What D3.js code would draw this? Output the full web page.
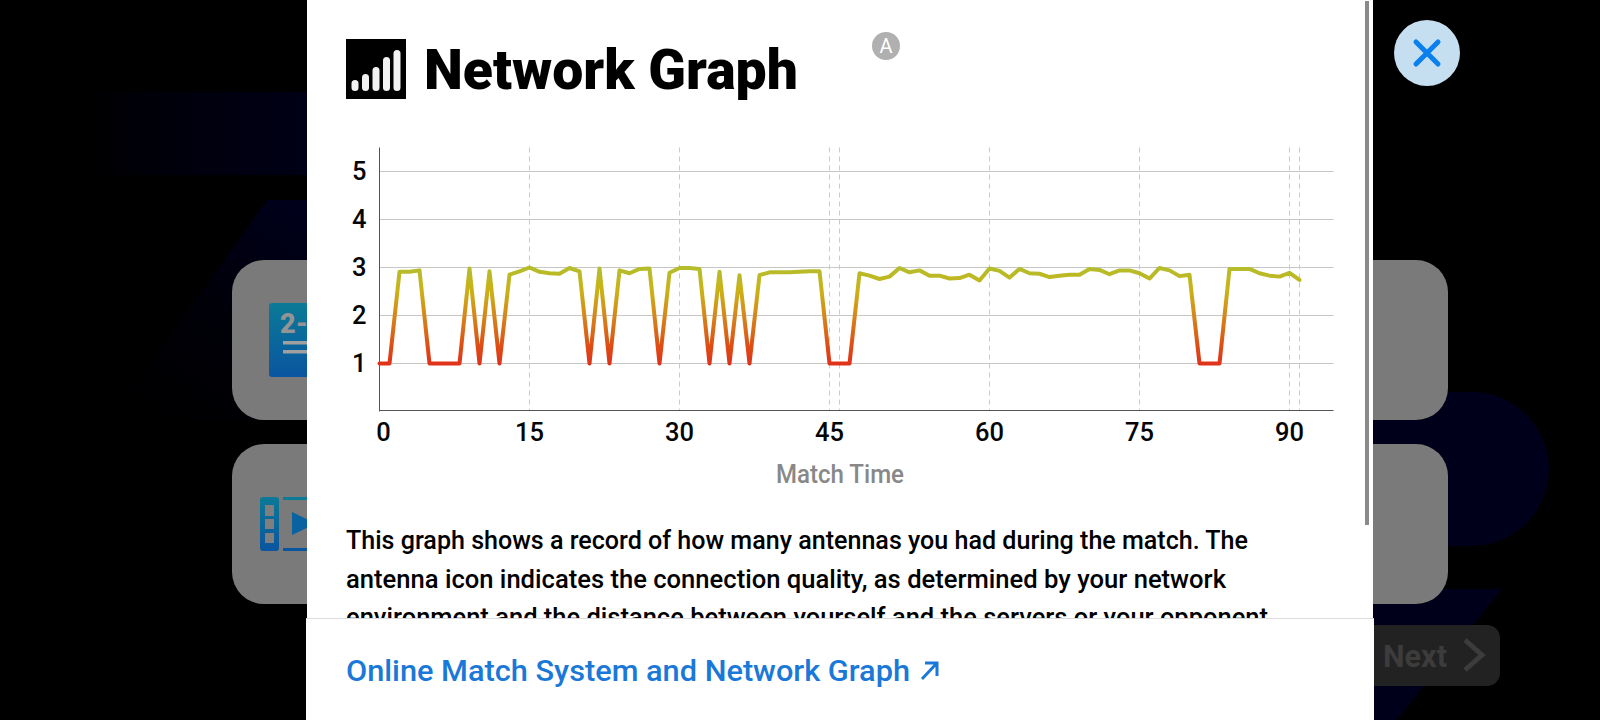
<!DOCTYPE html>
<html>
<head>
<meta charset="utf-8">
<script src="https://cdn.jsdelivr.net/npm/d3@7"></script>
<style>
  html, body { margin: 0; padding: 0; background: #000; overflow: hidden; }
  text { font-family: Roboto, "Noto Sans", sans-serif; }
  .x-axis .domain, .y-axis .domain { stroke: #555; stroke-width: 1; }
  .x-axis text, .y-axis text { font-size: 25.5px; font-weight: 500; fill: #050505; font-family: Roboto, sans-serif; }
</style>
</head>
<body>
<script>
// antennas per sample, one sample per slot on the x axis
const antennas = [
  1, 1, 2.91, 2.91, 2.94, 1, 1, 1, 1, 2.98,
  1, 2.92, 1, 2.85, 2.92, 3, 2.91, 2.88, 2.87, 2.99,
  2.92, 1, 2.98, 1, 2.94, 2.88, 2.97, 2.98, 1, 2.89,
  2.99, 2.99, 2.97, 1, 2.91, 1, 2.84, 1, 2.84, 2.9,
  2.9, 2.9, 2.91, 2.92, 2.92, 1, 1, 1, 2.88, 2.83,
  2.76, 2.81, 2.99, 2.9, 2.94, 2.83, 2.83, 2.77, 2.78, 2.85,
  2.73, 2.98, 2.93, 2.79, 2.97, 2.88, 2.87, 2.8, 2.83, 2.85,
  2.85, 2.97, 2.95, 2.86, 2.94, 2.94, 2.88, 2.77, 2.99, 2.94,
  2.82, 2.85, 1, 1, 1, 2.97, 2.97, 2.97, 2.88, 2.83,
  2.81, 2.89, 2.74
];
// slot 46 restarts the clock at 45 after the half-time break
const tickSlots = [0, 15, 30, 45, 61, 76, 91];
const tickLabels = ['0', '15', '30', '45', '60', '75', '90'];
const dashedSlots = [15, 30, 45, 46, 61, 76, 91, 92];
const yTicks = [1, 2, 3, 4, 5];

const bodyLines = [
  'This graph shows a record of how many antennas you had during the match. The',
  'antenna icon indicates the connection quality, as determined by your network',
  'environment and the distance between yourself and the servers or your opponent'
];
const bodyWidths = [902, 880, 922];

const svg = d3.select('body').append('svg')
              .attr('width', 1600)
              .attr('height', 720)
              .style('display', 'block');

const defs = svg.append('defs');

function linearGrad(id, stops, attrs) {
  const g = defs.append('linearGradient').attr('id', id);
  Object.entries(attrs).forEach(([k, v]) => g.attr(k, v));
  stops.forEach(s => g.append('stop').attr('offset', s[0]).attr('stop-color', s[1]));
  return g;
}

linearGrad('band-fade', [[0, '#000000'], [0.3, '#00000c'], [1, '#00001c']], {x1: 0, x2: 1, y1: 0, y2: 0});
linearGrad('wedge-fade', [[0, '#000000'], [0.45, '#000008'], [1, '#000020']], {x1: 0, x2: 0.8, y1: 1, y2: 0});
linearGrad('icon-blue', [[0, '#0b7a97'], [1, '#0a55a0']], {x1: 0, x2: 0, y1: 0, y2: 1});

// backdrop behind the dialog
const backdrop = svg.append('g');

backdrop.append('rect').attr('x', 80).attr('y', 92).attr('width', 300).attr('height', 83)
        .attr('fill', 'url(#band-fade)');
backdrop.append('path').attr('d', 'M267,200 L400,200 L400,420 L128,420 L128,395 Z')
        .attr('fill', 'url(#wedge-fade)');
backdrop.append('rect').attr('x', 1300).attr('y', 392).attr('width', 249).attr('height', 154)
        .attr('rx', 77).attr('fill', '#00001a');
backdrop.append('path').attr('d', 'M1340,589 L1502,589 L1397,720 L1340,720 Z')
        .attr('fill', '#00001a');

[260, 444].forEach(y => {
  backdrop.append('rect').attr('x', 232).attr('y', y).attr('width', 1216).attr('height', 160)
          .attr('rx', 32).attr('fill', '#7a7a7a');
});

backdrop.append('rect').attr('x', 269).attr('y', 303).attr('width', 60).attr('height', 74)
        .attr('rx', 3).attr('fill', 'url(#icon-blue)');
backdrop.append('text').attr('x', 280).attr('y', 333).text('2-')
        .attr('font-size', 27).attr('font-weight', 900).attr('fill', '#949494');
[341, 350].forEach(y => {
  backdrop.append('rect').attr('x', 283).attr('y', y).attr('width', 40).attr('height', 3.5)
          .attr('fill', '#a0a0a0');
});

backdrop.append('rect').attr('x', 260).attr('y', 497).attr('width', 19).attr('height', 54)
        .attr('rx', 3).attr('fill', 'url(#icon-blue)');
[[505, 11], [519, 10], [533, 10]].forEach(d => {
  backdrop.append('rect').attr('x', 265).attr('y', d[0]).attr('width', 9).attr('height', d[1])
          .attr('fill', '#7f7f7f');
});
backdrop.append('rect').attr('x', 283).attr('y', 497).attr('width', 40).attr('height', 3).attr('fill', '#0b7a97');
backdrop.append('rect').attr('x', 283).attr('y', 548).attr('width', 40).attr('height', 3).attr('fill', '#0a55a0');
backdrop.append('path').attr('d', 'M292,512 L316,523.5 L292,535 Z').attr('fill', '#0a62a0');

backdrop.append('rect').attr('x', 1300).attr('y', 625).attr('width', 200).attr('height', 61)
        .attr('rx', 13).attr('fill', '#222222');
backdrop.append('text').attr('x', 1383).attr('y', 667).text('Next')
        .attr('font-size', 31).attr('font-weight', 700).attr('fill', '#3c3c3c')
        .attr('textLength', 64).attr('lengthAdjust', 'spacingAndGlyphs');
backdrop.append('path').attr('d', 'M1465,640 L1482,655 L1465,670')
        .attr('fill', 'none').attr('stroke', '#3c3c3c').attr('stroke-width', 5);

// close button
svg.append('circle').attr('cx', 1427).attr('cy', 53).attr('r', 33).attr('fill', '#c6dff0');
svg.append('path').attr('d', 'M1416,42 L1438,64 M1438,42 L1416,64')
   .attr('stroke', '#0a7fee').attr('stroke-width', 5).attr('stroke-linecap', 'round');

// dialog
svg.append('rect').attr('x', 307).attr('y', 0).attr('width', 1066).attr('height', 720).attr('fill', '#fff');
svg.append('rect').attr('x', 1365).attr('y', 1).attr('width', 4).attr('height', 524).attr('fill', '#8a8a8a');

// header
svg.append('rect').attr('x', 346).attr('y', 39).attr('width', 60).attr('height', 60).attr('fill', '#000');
[[355, 80], [365.5, 74], [376, 67], [386.5, 57], [397, 50]].forEach(d => {
  svg.append('rect').attr('x', d[0] - 3.5).attr('y', d[1]).attr('width', 7).attr('height', 91 - d[1])
     .attr('rx', 3.5).attr('fill', '#f2f2f2');
});
svg.append('text').attr('x', 424).attr('y', 89).text('Network Graph')
   .attr('font-size', 55).attr('font-weight', 900).attr('fill', '#000')
   .attr('textLength', 374).attr('lengthAdjust', 'spacingAndGlyphs');
svg.append('circle').attr('cx', 886).attr('cy', 46).attr('r', 14).attr('fill', '#b0b0b0');
svg.append('text').attr('x', 886).attr('y', 53).text('A')
   .attr('text-anchor', 'middle').attr('font-size', 20).attr('fill', '#fff');

// chart
const xScale = d3.scaleLinear()
                 .domain([0, 95.4])
                 .range([379.5, 1333.5]);

const yScale = d3.scaleLinear()
                 .domain([0, 5.5])
                 .range([411.5, 147.5]);

const chart = svg.append('g').attr('id', 'network-chart');

chart.selectAll('.h-grid')
     .data(yTicks)
     .enter()
     .append('line')
       .attr('class', 'h-grid')
       .attr('x1', xScale(0))
       .attr('x2', xScale(95.4))
       .attr('y1', d => yScale(d))
       .attr('y2', d => yScale(d))
       .attr('stroke', '#c6c6c6');

chart.selectAll('.v-grid')
     .data(dashedSlots)
     .enter()
     .append('line')
       .attr('class', 'v-grid')
       .attr('x1', d => xScale(d))
       .attr('x2', d => xScale(d))
       .attr('y1', yScale(5.5))
       .attr('y2', 410.5)
       .attr('stroke', '#cacaca')
       .attr('stroke-dasharray', '5,4');

const xAxis = d3.axisBottom(xScale)
                .tickValues(tickSlots)
                .tickFormat((d, i) => tickLabels[i])
                .tickSize(0)
                .tickPadding(12)
                .offset(0);

const yAxis = d3.axisLeft(yScale)
                .tickValues(yTicks)
                .tickFormat(d3.format('d'))
                .tickSize(0)
                .tickPadding(13)
                .offset(0);

chart.append('g')
     .attr('class', 'x-axis')
     .attr('transform', 'translate(0,410.5)')
     .call(xAxis)
     .call(g => g.selectAll('.tick text').attr('dx', (d, i) => i === 0 ? 4 : 0));

chart.append('g')
     .attr('class', 'y-axis')
     .attr('transform', `translate(${xScale(0)},0)`)
     .call(yAxis);

// colour follows the value, red at 1 antenna and yellow-green at 3
linearGrad('signal', [
  [0, '#b4bd2c'], [0.25, '#cbb116'], [0.5, '#d5871a'], [0.8, '#dd5015'], [1, '#e0331a']
], {gradientUnits: 'userSpaceOnUse', x1: 0, x2: 0, y1: yScale(3), y2: yScale(1)});

const line = d3.line()
               .x((d, i) => xScale(i))
               .y(d => yScale(d));

chart.append('path')
     .datum(antennas)
     .attr('d', line)
     .attr('fill', 'none')
     .attr('stroke', 'url(#signal)')
     .attr('stroke-width', 4)
     .attr('stroke-linejoin', 'round')
     .attr('stroke-linecap', 'round');

chart.append('text')
     .attr('x', 840)
     .attr('y', 483)
     .attr('text-anchor', 'middle')
     .attr('font-size', 25.5)
     .attr('font-weight', 500)
     .attr('fill', '#888')
     .attr('textLength', 128)
     .attr('lengthAdjust', 'spacingAndGlyphs')
     .text('Match Time');

// description, the third line runs under the footer
svg.selectAll('.body-line')
   .data(bodyLines)
   .enter()
   .append('text')
     .attr('class', 'body-line')
     .attr('x', 346)
     .attr('y', (d, i) => 549 + i * 38.5)
     .attr('font-size', 25)
     .attr('font-weight', 500)
     .attr('fill', '#000')
     .attr('textLength', (d, i) => bodyWidths[i])
     .attr('lengthAdjust', 'spacingAndGlyphs')
     .text(d => d);

// footer
svg.append('rect').attr('x', 306).attr('y', 619).attr('width', 1068).attr('height', 101).attr('fill', '#fff');
svg.append('line').attr('x1', 306).attr('x2', 1374).attr('y1', 618.5).attr('y2', 618.5).attr('stroke', '#dcdcdc');
svg.append('text').attr('x', 346).attr('y', 681).text('Online Match System and Network Graph')
   .attr('font-size', 29).attr('font-weight', 500).attr('fill', '#1a78d8')
   .attr('textLength', 564).attr('lengthAdjust', 'spacingAndGlyphs');
svg.append('path').attr('d', 'M922,679 L937,663 M925,663 L937,663 L937,676')
   .attr('fill', 'none').attr('stroke', '#1a78d8').attr('stroke-width', 3);
</script>
</body>
</html>
